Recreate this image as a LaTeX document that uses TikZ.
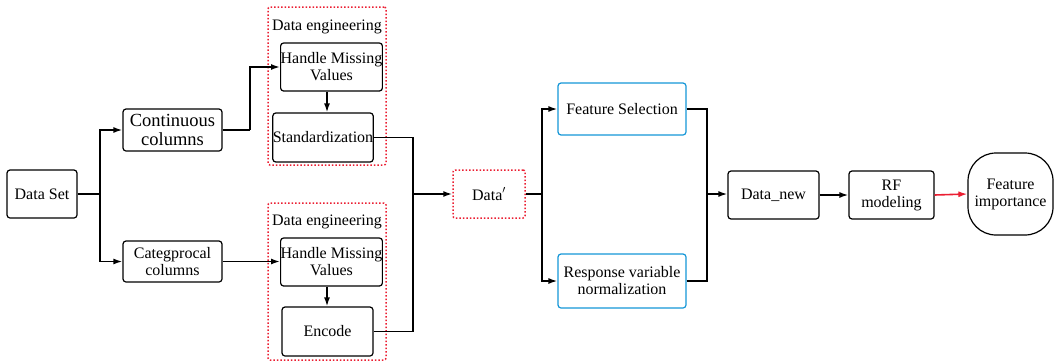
\documentclass[tikz,border=0pt]{standalone}
\usepackage{fontspec}
\setmainfont{LiberationSerif-Regular.ttf}[BoldFont=LiberationSerif-Bold.ttf,ItalicFont=LiberationSerif-Italic.ttf]
\usetikzlibrary{arrows.meta,calc}
\definecolor{boxblue}{RGB}{20,150,215}
\definecolor{dotred}{RGB}{235,30,50}
\begin{document}
\begin{tikzpicture}[x=1pt,y=-1pt,
  every node/.style={font=\rmfamily\fontsize{16}{17}\selectfont, align=center, inner sep=0pt},
  blk/.style={draw=black, line width=1.2pt, rounded corners=3pt},
  bluebox/.style={draw=boxblue, line width=1.2pt, rounded corners=3pt},
  redgroup/.style={draw=dotred, line width=1.5pt, dotted, rounded corners=2pt},
  conn/.style={line width=1.6pt, draw=black},
  arr/.style={conn, -{Latex[length=9pt,width=6pt]}},
  redarr/.style={line width=1.6pt, draw=dotred, -{Latex[length=9pt,width=6pt]}}
]
\useasboundingbox (0,0) rectangle (1059,362);

% nodes
\node[blk, minimum width=70pt, minimum height=48pt] (ds) at (42,194) {Data Set};
\node[blk, minimum width=99pt, minimum height=42pt, font=\rmfamily\fontsize{18.5}{19}\selectfont] (cc) at (172.5,130) {Continuous\\columns};
\node[blk, minimum width=99pt, minimum height=41pt] (cat) at (172.5,261.5) {Categprocal\\columns};

\node[redgroup, minimum width=118pt, minimum height=158pt] (de1) at (327,86) {};
\node (t1) at ($(de1.north)+(0,21)$) {Data engineering};
\node[blk, minimum width=101pt, minimum height=48pt] (hmv1) at (331.5,67) {Handle Missing\\Values};
\node[blk, minimum width=100pt, minimum height=49pt] (std) at (323,137.5) {Standardization};

\node[redgroup, minimum width=118pt, minimum height=157pt] (de2) at (327,281.5) {};
\node (t2) at ($(de2.north)+(0,20)$) {Data engineering};
\node[blk, minimum width=101pt, minimum height=48pt] (hmv2) at (331.5,262) {Handle Missing\\Values};
\node[blk, minimum width=91pt, minimum height=49pt] (enc) at (327.5,331.5) {Encode};

\node[redgroup, minimum width=72pt, minimum height=48pt] (dp) at (489,194) {Data$'$};

\node[bluebox, minimum width=128pt, minimum height=52pt] (fs) at (622,109) {Feature Selection};
\node[bluebox, minimum width=128pt, minimum height=54pt] (rv) at (622,281) {Response variable\\normalization};

\node[blk, minimum width=91pt, minimum height=48pt] (dn) at (773.5,195) {Data\_new};
\node[blk, minimum width=85pt, minimum height=48pt] (rf) at (891.5,195) {RF\\modeling};
\node[draw=black, line width=1.2pt, rounded corners=28pt, minimum width=85pt, minimum height=82pt] (fi) at (1010.5,194) {Feature\\importance};

% junctions
\coordinate (j1) at (100,194);
\coordinate (j2) at (413,194);
\coordinate (j3) at (542,194);
\coordinate (j4) at (707,194);
\coordinate (k1) at (250,130);

% connectors
\draw[conn] (ds.east) -- (j1);
\draw[arr] (j1) |- (cc.west);
\draw[arr] (j1) |- (cat.west);
\draw[conn] (cc.east) -- (k1);
\draw[arr] (k1) |- (hmv1.west);
\draw[arr] (cat.east) -- (cat.east -| hmv2.west);
\draw[arr] (hmv1.south -| de1.center) -- (std.north -| de1.center);
\draw[arr] (hmv2.south -| de2.center) -- (enc.north -| de2.center);
\draw[conn] (std.east) -| (j2);
\draw[conn] (enc.east) -| (j2);
\draw[arr] (j2) -- (dp.west);
\draw[conn] (dp.east) -- (j3);
\draw[arr] (j3) |- (fs.west);
\draw[arr] (j3) |- (rv.west);
\draw[conn] (fs.east) -| (j4);
\draw[conn] (rv.east) -| (j4);
\draw[arr] (j4) -- (j4 -| dn.west);
\draw[arr] (dn.east) -- (rf.west);
\draw[redarr] (rf.east) -- (fi.west);
\end{tikzpicture}
\end{document}
